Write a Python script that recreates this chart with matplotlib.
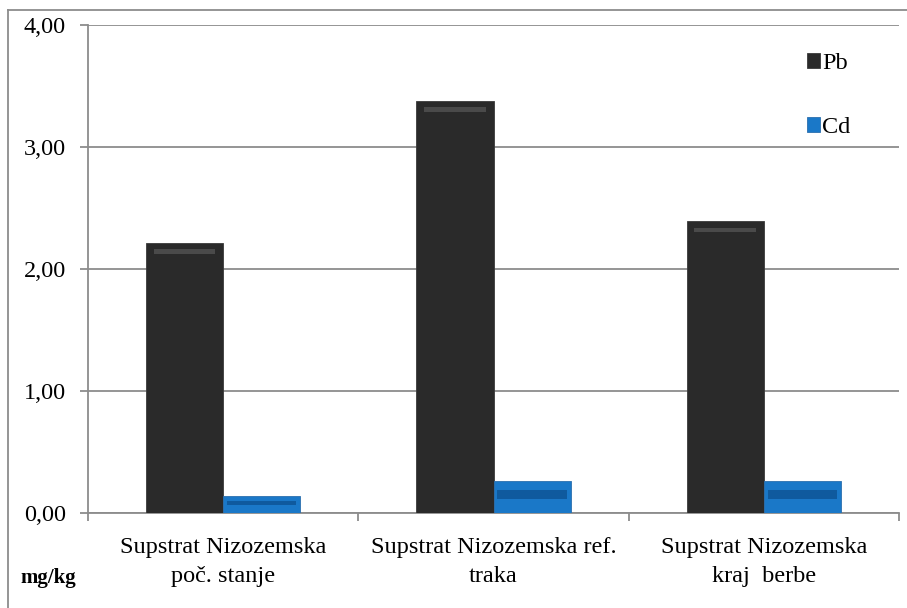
import matplotlib.pyplot as plt
import numpy as np

categories = ['Supstrat Nizozemska\npoč. stanje', 'Supstrat Nizozemska ref.\ntraka', 'Supstrat Nizozemska\nkraj  berbe']
pb = [2.21, 3.38, 2.39]
cd = [0.14, 0.26, 0.26]

plt.rcParams['font.family'] = ['Liberation Serif', 'DejaVu Serif']

fig = plt.figure(figsize=(9.07, 6.08), dpi=100)
ax = fig.add_axes([88 / 907, 95 / 608, 811 / 907, 488 / 608])

x = np.arange(len(categories))
w = 0.285

bars_pb = ax.bar(x - w / 2, pb, w, color='#2a2a2a', edgecolor='#3a3a3a', linewidth=0.6, zorder=3, label='Pb')
bars_cd = ax.bar(x + w / 2, cd, w, color='#1a78c8', edgecolor='#2b6fae', linewidth=0.6, zorder=3, label='Cd')

# bevel highlight near the top of each bar
for xi, v in zip(x, pb):
    ax.bar(xi - w / 2, 0.04, w * 0.8, bottom=v - 0.09, color='#4a4a4a', zorder=4, linewidth=0)
for xi, v in zip(x, cd):
    ax.bar(xi + w / 2, v * 0.28, w * 0.9, bottom=v * 0.45, color='#0f5a9e', zorder=4, linewidth=0)

ax.set_xlim(-0.5, 2.5)
ax.set_ylim(0, 4)
ax.set_yticks([0, 1, 2, 3, 4])
ax.set_yticklabels(['0,00', '1,00', '2,00', '3,00', '4,00'], fontsize=17.5)
ax.yaxis.grid(True, color='#8c8c8c', linewidth=1.3, zorder=0)
ax.set_axisbelow(True)

ax.set_xticks([-0.5, 0.5, 1.5, 2.5])
ax.set_xticklabels([])
ax.tick_params(axis='x', length=6, width=1.3, color='#8c8c8c', direction='out')
ax.tick_params(axis='y', length=6, width=1.3, color='#8c8c8c', pad=10)
for xi, lab in zip(x, categories):
    ax.text(xi, -0.2, lab, ha='center', va='top', fontsize=17.5, linespacing=1.45,
            transform=ax.transData)

for s in ['top', 'right']:
    ax.spines[s].set_visible(False)
for s in ['left', 'bottom']:
    ax.spines[s].set_color('#8c8c8c')
    ax.spines[s].set_linewidth(1.3)

leg = ax.legend(handles=[bars_pb, bars_cd], loc='upper left', bbox_to_anchor=(0.874, 0.962),
                frameon=False, fontsize=17.5, handlelength=0.55, handleheight=0.55,
                handletextpad=0.1, labelspacing=1.75, borderaxespad=0)

fig.text(20 / 907, 1 - 578 / 608, 'mg/kg', fontsize=15, fontweight='bold', va='center', ha='left')

# outer chart frame
fig.add_artist(plt.Line2D([8 / 907, 8 / 907], [0, 1 - 10 / 608], transform=fig.transFigure, color='#8c8c8c', linewidth=1.3))
fig.add_artist(plt.Line2D([8 / 907, 1], [1 - 10 / 608, 1 - 10 / 608], transform=fig.transFigure, color='#8c8c8c', linewidth=1.3))

fig.savefig('out.png', dpi=100)
